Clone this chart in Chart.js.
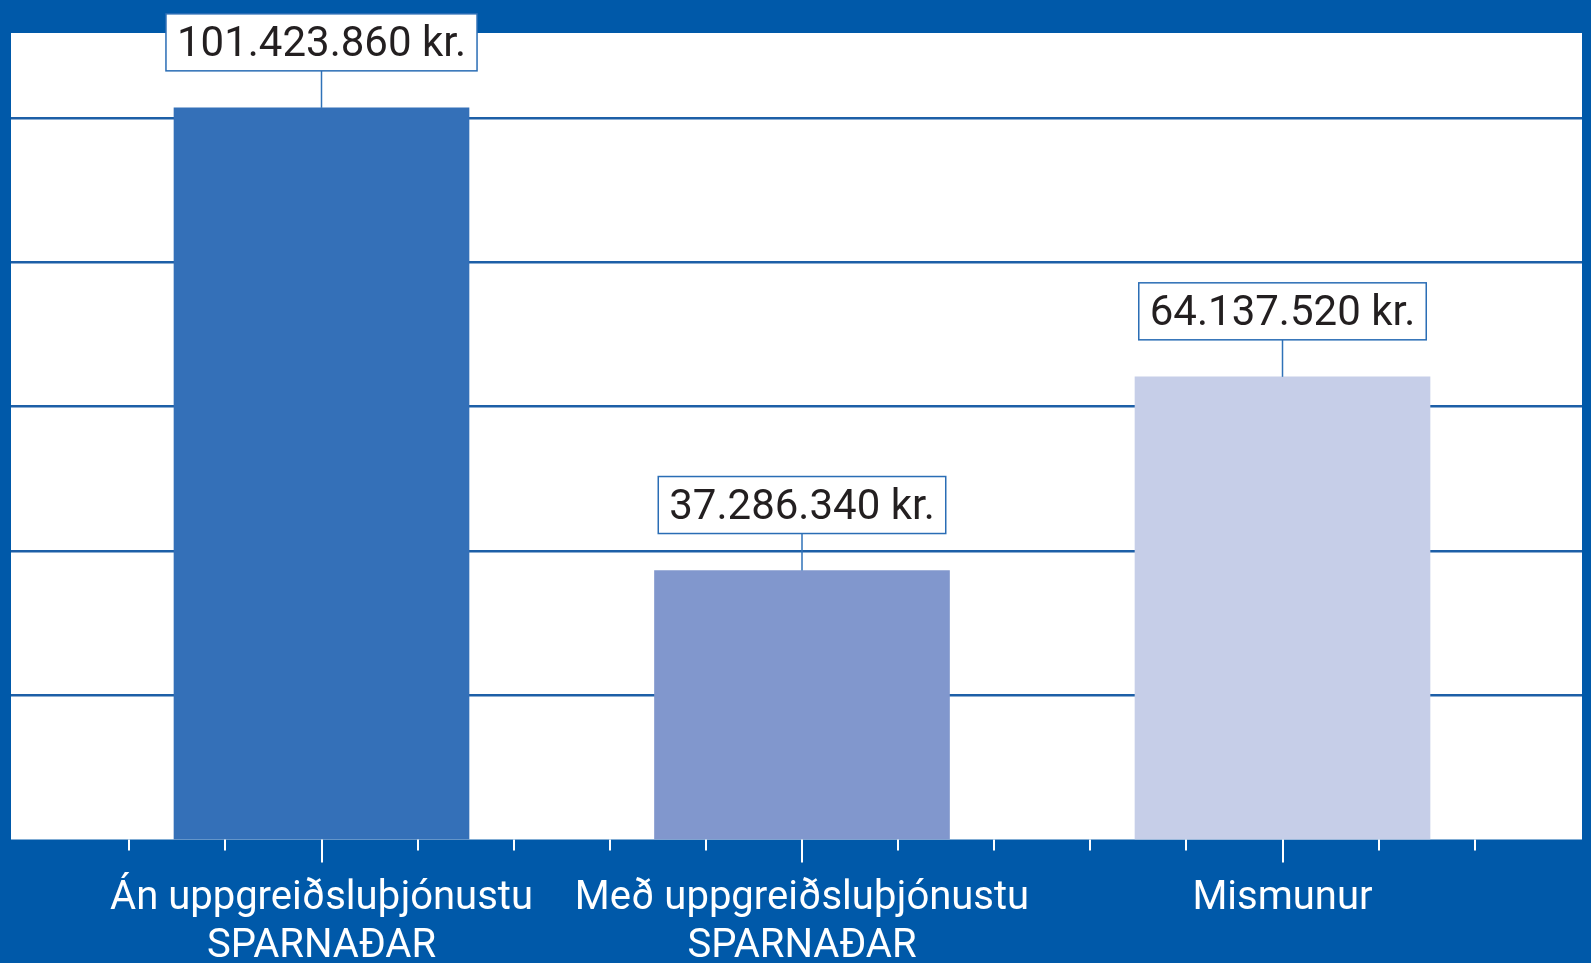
<!DOCTYPE html>
<html>
<head>
<meta charset="utf-8">
<script src="https://cdn.jsdelivr.net/npm/chart.js@4.4.1/dist/chart.umd.min.js"></script>
<style>
  html, body { margin: 0; padding: 0; background: #0059a9; }
  #wrap { width: 1591px; height: 963px; }
</style>
</head>
<body>
<div id="wrap"><canvas id="savingsChart"></canvas></div>
<script>
const categoryLabels = [
    ['Án uppgreiðsluþjónustu', 'SPARNAÐAR'],
    ['Með uppgreiðsluþjónustu', 'SPARNAÐAR'],
    ['Mismunur']
]
const amountVals = [101423860, 37286340, 64137520]
const valueLabels = ['101.423.860 kr.', '37.286.340 kr.', '64.137.520 kr.']
const barColors = ['#3470b8', '#8197cd', '#c6cee8']
const gridVals = [20000000, 40000000, 60000000, 80000000, 100000000]

const ctx = document.getElementById('savingsChart')

// white plot area behind everything
const plotBackground = {
    id: 'plotBackground',
    beforeDraw(chart) {
        const { ctx, chartArea } = chart
        ctx.save()
        ctx.fillStyle = '#ffffff'
        ctx.fillRect(chartArea.left, chartArea.top, chartArea.right - chartArea.left, chartArea.bottom - chartArea.top)
        ctx.restore()
    }
}

// white tick marks under the axis, long ones at the bars
const axisTicks = {
    id: 'axisTicks',
    afterDraw(chart) {
        const { ctx, chartArea } = chart
        const xScale = chart.scales.x
        ctx.save()
        ctx.strokeStyle = '#ffffff'
        ctx.lineWidth = 2
        for (let i = -2; i <= 12; i++) {
            const v = i / 5
            const px = Math.round(xScale.getPixelForValue(v))
            const len = (i % 5 === 0) ? 23 : 11
            ctx.beginPath()
            ctx.moveTo(px, chartArea.bottom)
            ctx.lineTo(px, chartArea.bottom + len)
            ctx.stroke()
        }
        ctx.restore()
    }
}

// boxed value labels with a leader line down to each bar
const valueBoxes = {
    id: 'valueBoxes',
    afterDatasetsDraw(chart) {
        const { ctx } = chart
        const meta = chart.getDatasetMeta(0)
        ctx.save()
        ctx.font = '42px Roboto'
        meta.data.forEach((bar, i) => {
            const text = valueLabels[i]
            const w = ctx.measureText(text).width + 22
            const boxBottom = bar.y - 37
            const boxTop = boxBottom - 57
            // leader line
            ctx.strokeStyle = '#2f72b8'
            ctx.lineWidth = 1.5
            ctx.beginPath()
            ctx.moveTo(bar.x, bar.y)
            ctx.lineTo(bar.x, boxBottom)
            ctx.stroke()
            // box
            ctx.fillStyle = '#ffffff'
            ctx.fillRect(bar.x - w / 2, boxTop, w, 57)
            ctx.strokeStyle = '#2a6db5'
            ctx.strokeRect(bar.x - w / 2, boxTop, w, 57)
            // text
            ctx.fillStyle = '#231f20'
            ctx.textAlign = 'center'
            ctx.textBaseline = 'alphabetic'
            ctx.fillText(text, bar.x, boxBottom - 15)
        })
        ctx.restore()
    }
}

const savingsChart = new Chart(ctx, {
    type: 'bar',
    data: {
        datasets: [{
            data: amountVals.map((v, i) => ({ x: i, y: v })),
            backgroundColor: barColors,
            barThickness: 295,
            borderWidth: 0
        }]
    },
    options: {
        responsive: true,
        maintainAspectRatio: false,
        animation: false,
        layout: { padding: { top: 33, left: 11, right: 9, bottom: 0 } },
        plugins: {
            legend: { display: false },
            tooltip: { enabled: false }
        },
        scales: {
            x: {
                type: 'linear',
                offset: false,
                min: -0.6462,
                max: 2.6233,
                grid: { display: false, drawTicks: false },
                border: { display: false },
                afterFit(scale) { scale.height = 123.5 },
                afterBuildTicks(scale) {
                    scale.ticks = categoryLabels.map((l, i) => ({ value: i }))
                },
                ticks: {
                    autoSkip: false,
                    maxRotation: 0,
                    padding: 35,
                    color: '#ffffff',
                    font: { family: 'Roboto', size: 40, lineHeight: 1.2 },
                    callback: (v) => categoryLabels[Math.round(v)] || ''
                }
            },
            y: {
                min: 0,
                max: 111800000,
                afterBuildTicks(scale) {
                    scale.ticks = gridVals.map(v => ({ value: v }))
                },
                ticks: { display: false },
                border: { display: false },
                grid: {
                    drawTicks: false,
                    lineWidth: 2.5,
                    color: '#1d5fa7'
                }
            }
        }
    },
    plugins: [plotBackground, axisTicks, valueBoxes]
});
</script>
</body>
</html>
